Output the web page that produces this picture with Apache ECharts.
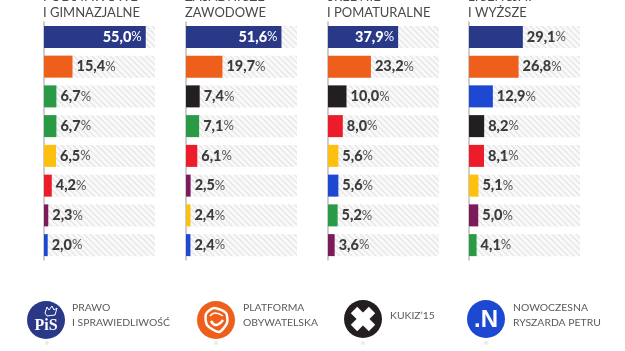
<!DOCTYPE html>
<html>
<head>
<meta charset="utf-8">
<style>html,body{margin:0;padding:0;background:#fff}#chart{width:625px;height:351px}</style>
<script src="https://cdn.jsdelivr.net/npm/echarts@6/dist/echarts.min.js"></script>
</head>
<body>
<div id="chart"></div>
<script>
// wartości
const ranks = ["1", "2", "3", "4", "5", "6", "7", "8"];
const panel1Values = [55.0, 15.4, 6.7, 6.7, 6.5, 4.2, 2.3, 2.0];
const panel2Values = [51.6, 19.7, 7.4, 7.1, 6.1, 2.5, 2.4, 2.4];
const panel3Values = [37.9, 23.2, 10.0, 8.0, 5.6, 5.6, 5.2, 3.6];
const panel4Values = [29.1, 26.8, 12.9, 8.2, 8.1, 5.1, 5.0, 4.1];
const panel1Parties = ["pis", "po", "psl", "psl", "korwin", "sld", "razem", "n"];
const panel2Parties = ["pis", "po", "kukiz", "psl", "sld", "razem", "korwin", "n"];
const panel3Parties = ["pis", "po", "kukiz", "sld", "korwin", "n", "psl", "razem"];
const panel4Parties = ["pis", "po", "n", "kukiz", "sld", "korwin", "razem", "psl"];
const partyColors = {
  pis: "#2a3888", po: "#ee5f1b", kukiz: "#231f20", n: "#1c48d2",
  psl: "#2a9a47", sld: "#ed1c2a", korwin: "#fdc00f", razem: "#7c1a5c"
};
const panelHeaders = [
  ["PODSTAWOWE", "I GIMNAZJALNE"],
  ["ZASADNICZE", "ZAWODOWE"],
  ["ŚREDNIE", "I POMATURALNE"],
  ["LICENCJAT", "I WYŻSZE"]
];

const panelLefts = [44, 186, 328, 469];
const trackWidth = 111;
const axisMax = 60;
const font = "Lato";

// szare kreskowanie tła pasków
function hatch() {
  const c = document.createElement("canvas");
  c.width = 6;
  c.height = 6;
  const g = c.getContext("2d");
  g.fillStyle = "#fafafa";
  g.fillRect(0, 0, 6, 6);
  g.strokeStyle = "#e6e6e6";
  g.lineWidth = 1.5;
  g.beginPath();
  g.moveTo(-3, 3); g.lineTo(3, 9);
  g.moveTo(0, 0); g.lineTo(6, 6);
  g.moveTo(3, -3); g.lineTo(9, 3);
  g.stroke();
  return c;
}
const hatchImage = hatch();

function buildPanel(i, values, parties) {
  return {
    grid: { left: panelLefts[i], top: 22, width: trackWidth, height: 238 },
    xAxis: { gridIndex: i, type: "value", min: 0, max: axisMax, show: false },
    yAxis: {
      gridIndex: i,
      type: "category",
      data: ranks,
      inverse: true,
      axisLine: { show: true, lineStyle: { color: "#bdbdbd", width: 1.5 } },
      axisTick: { show: false },
      axisLabel: { show: false },
      splitLine: { show: false }
    },
    series: {
      type: "bar",
      xAxisIndex: i,
      yAxisIndex: i,
      barWidth: 22,
      showBackground: true,
      backgroundStyle: { color: { image: hatchImage, repeat: "repeat" } },
      data: values.map((v, k) => {
        const big = v > 30;
        return {
          value: v,
          itemStyle: { color: partyColors[parties[k]] },
          label: {
            position: big ? "insideRight" : "right",
            distance: 4,
            rich: {
              v: { fontFamily: font, fontWeight: 900, fontSize: 14.5, color: big ? "#fff" : "#3c3c3c" },
              p: { fontFamily: font, fontWeight: 400, fontSize: 13, color: big ? "#fff" : "#555" }
            }
          }
        };
      }),
      label: {
        show: true,
        formatter: p => "{v|" + p.value.toFixed(1).replace(".", ",") + "}{p|%}"
      },
      silent: true,
      animation: false
    }
  };
}

const panels = [
  buildPanel(0, panel1Values, panel1Parties),
  buildPanel(1, panel2Values, panel2Parties),
  buildPanel(2, panel3Values, panel3Parties),
  buildPanel(3, panel4Values, panel4Parties)
];

// nagłówki kolumn (górna linia jest ucięta jak w oryginale)
const headerText = [];
panelHeaders.forEach((lines, i) => {
  headerText.push({
    type: "text",
    x: panelLefts[i] - 1,
    y: -3,
    style: { text: lines[0], font: "400 13px " + font, fill: "#4a4a4a", textVerticalAlign: "middle" }
  });
  headerText.push({
    type: "text",
    x: panelLefts[i] - 1,
    y: 13,
    style: { text: lines[1], font: "400 13px " + font, fill: "#4a4a4a", textVerticalAlign: "middle" }
  });
});

// logotypy i opisy partii na dole
function shadow(cx) {
  return {
    type: "ellipse",
    shape: { cx: cx, cy: 343, rx: 26, ry: 3 },
    style: {
      fill: {
        type: "radial", x: 0.5, y: 0.5, r: 0.5,
        colorStops: [{ offset: 0, color: "#e2e2e2" }, { offset: 1, color: "#ffffff" }]
      }
    },
    silent: true
  };
}
function circle(cx, cy, color) {
  return { type: "circle", shape: { cx: cx, cy: cy, r: 19 }, style: { fill: color } };
}
function caption(x, y, text) {
  return {
    type: "text",
    x: x,
    y: y,
    style: { text: text, font: "400 10.4px " + font, fill: "#5a5a5a", textVerticalAlign: "middle" }
  };
}
function whiteBar(x1, y1, x2, y2) {
  return { type: "line", shape: { x1: x1, y1: y1, x2: x2, y2: y2 }, style: { stroke: "#fff", lineWidth: 9 } };
}
const legendItems = [
  shadow(47), circle(46, 320, partyColors.pis),
  { type: "text", x: 46, y: 326, style: { text: "PiS", font: "700 16px 'Liberation Serif'", fill: "#fff", textAlign: "center", textVerticalAlign: "middle" } },
  { type: "polygon", shape: { points: [[45, 313], [47, 307], [49, 310], [52, 306], [54, 310], [57, 308], [55, 315], [47, 316]] }, style: { fill: "none", stroke: "#fff", lineWidth: 1 } },
  caption(72, 308, "PRAWO"),
  caption(72, 323, "I SPRAWIEDLIWOŚĆ"),

  shadow(216), circle(216, 320, partyColors.po),
  { type: "polygon", shape: { smooth: 0.25, points: [[206, 314], [214, 308], [226, 313], [227, 323], [219, 332], [207, 325]] }, style: { fill: "none", stroke: "#fff", lineWidth: 2.5 } },
  { type: "polyline", shape: { smooth: 0.5, points: [[211, 321], [216, 325], [223, 320]] }, style: { fill: "none", stroke: "#fff", lineWidth: 2.5 } },
  { type: "polyline", shape: { smooth: 0.5, points: [[210, 316], [215, 313], [223, 316]] }, style: { fill: "none", stroke: "#fff", lineWidth: 1.5 } },
  caption(243, 308, "PLATFORMA"),
  caption(243, 323, "OBYWATELSKA"),

  shadow(363), circle(363, 319, partyColors.kukiz),
  whiteBar(354, 310, 372, 328),
  whiteBar(372, 310, 354, 328),
  caption(390, 316, "KUKIZ’15"),

  shadow(486), circle(486, 319, partyColors.n),
  { type: "text", x: 486, y: 320, style: { text: ".N", font: "700 24px 'Liberation Sans'", fill: "#fff", textAlign: "center", textVerticalAlign: "middle" } },
  caption(513, 308, "NOWOCZESNA"),
  caption(513, 323, "RYSZARDA PETRU")
];

const chart = echarts.init(document.getElementById("chart"), null, { renderer: "canvas" });
chart.setOption({
  backgroundColor: "#fff",
  animation: false,
  grid: panels.map(p => p.grid),
  xAxis: panels.map(p => p.xAxis),
  yAxis: panels.map(p => p.yAxis),
  series: panels.map(p => p.series),
  graphic: headerText.concat(legendItems)
});
</script>
</body>
</html>
